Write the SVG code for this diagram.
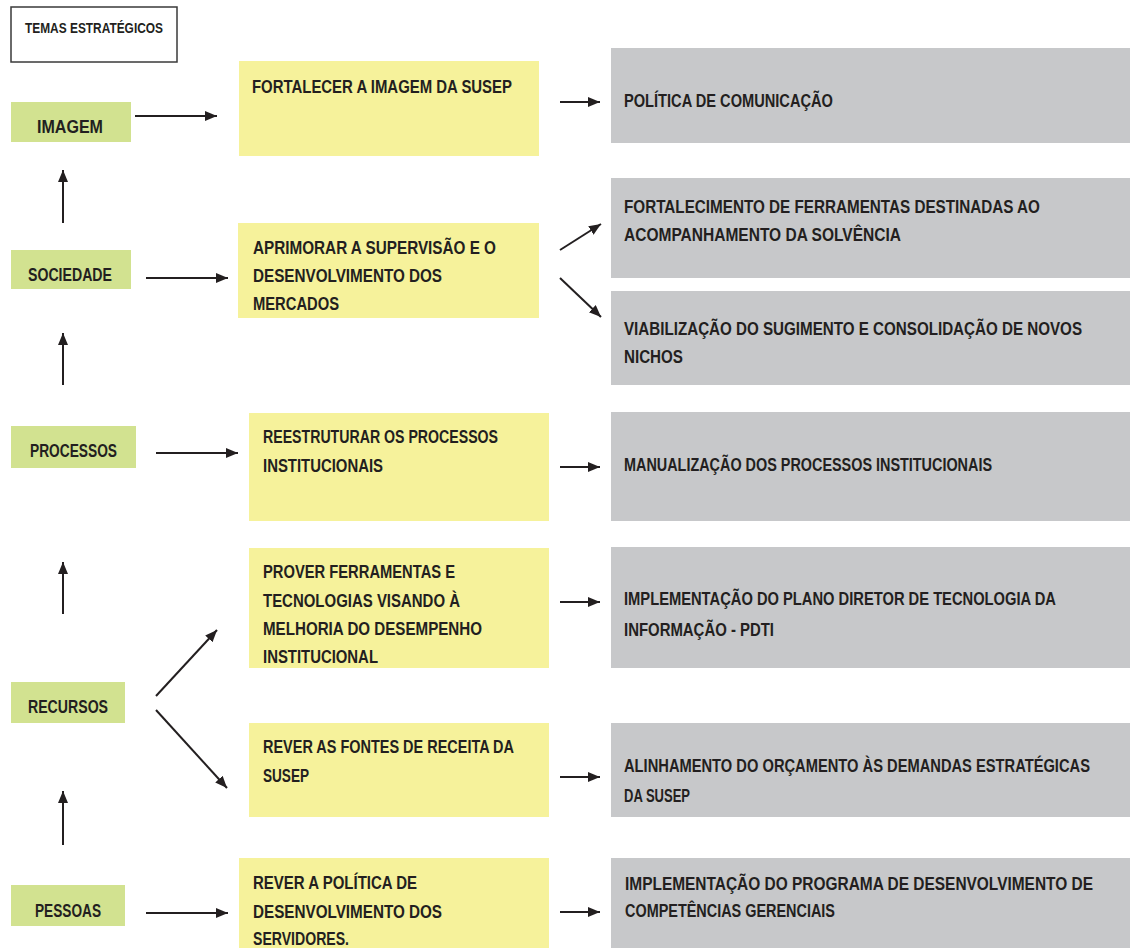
<svg xmlns="http://www.w3.org/2000/svg" width="1130" height="948" viewBox="0 0 1130 948">
<defs>
<marker id="ah" markerUnits="userSpaceOnUse" markerWidth="14" markerHeight="12" refX="12" refY="5" orient="auto">
<path d="M0,0 L12,5 L0,10 z" fill="#231f20"/>
</marker>
<style>
.t{font-family:"Liberation Sans",Arial,sans-serif;font-weight:bold;font-size:19px;fill:#231f20}
.s{font-size:14px}
.g{fill:#d2e290}
.y{fill:#f6f29b}
.r{fill:#c7c8ca}
.c{stroke:#231f20;stroke-width:2;fill:none;marker-end:url(#ah)}
</style>
</defs>
<rect width="1130" height="948" fill="#ffffff"/>
<g id="temas">
<rect x="11" y="7" width="166" height="55" fill="#ffffff" stroke="#3a3a3a" stroke-width="1.5"/>
<text class="t s" transform="matrix(0.78,0,0,1,25,33)" textLength="176.9" lengthAdjust="spacingAndGlyphs">TEMAS ESTRATÉGICOS</text>
</g>
<g id="imagem"><rect class="g" x="11" y="102" width="120" height="40"/><text class="t" transform="matrix(0.78,0,0,1,37,133)" textLength="84.6" lengthAdjust="spacingAndGlyphs">IMAGEM</text></g>
<g id="sociedade"><rect class="g" x="11" y="250" width="120" height="39"/><text class="t" transform="matrix(0.78,0,0,1,28,281)" textLength="107.7" lengthAdjust="spacingAndGlyphs">SOCIEDADE</text></g>
<g id="processos"><rect class="g" x="11" y="426" width="125" height="42"/><text class="t" transform="matrix(0.78,0,0,1,30,457)" textLength="111.5" lengthAdjust="spacingAndGlyphs">PROCESSOS</text></g>
<g id="recursos"><rect class="g" x="11" y="682" width="114" height="41"/><text class="t" transform="matrix(0.78,0,0,1,28,713)" textLength="102.6" lengthAdjust="spacingAndGlyphs">RECURSOS</text></g>
<g id="pessoas"><rect class="g" x="11" y="885" width="114" height="41"/><text class="t" transform="matrix(0.78,0,0,1,35,917)" textLength="84.6" lengthAdjust="spacingAndGlyphs">PESSOAS</text></g>

<g id="obj1"><rect class="y" x="239" y="61" width="300" height="95"/>
<text class="t" transform="matrix(0.78,0,0,1,252,93)" textLength="333.3" lengthAdjust="spacingAndGlyphs">FORTALECER A IMAGEM DA SUSEP</text></g>
<g id="obj2"><rect class="y" x="238" y="223" width="301" height="95"/>
<text class="t" transform="matrix(0.78,0,0,1,253,254)" textLength="311.5" lengthAdjust="spacingAndGlyphs">APRIMORAR  A SUPERVISÃO E O</text>
<text class="t" transform="matrix(0.78,0,0,1,253,282)" textLength="242.3" lengthAdjust="spacingAndGlyphs">DESENVOLVIMENTO  DOS</text>
<text class="t" transform="matrix(0.78,0,0,1,253,310)" textLength="110.3" lengthAdjust="spacingAndGlyphs">MERCADOS</text></g>
<g id="obj3"><rect class="y" x="249" y="413" width="300" height="108"/>
<text class="t" transform="matrix(0.78,0,0,1,263,443)" textLength="301.3" lengthAdjust="spacingAndGlyphs">REESTRUTURAR OS PROCESSOS</text>
<text class="t" transform="matrix(0.78,0,0,1,263,472)" textLength="153.8" lengthAdjust="spacingAndGlyphs">INSTITUCIONAIS</text></g>
<g id="obj4"><rect class="y" x="249" y="548" width="300" height="120"/>
<text class="t" transform="matrix(0.78,0,0,1,263,578)" textLength="246.2" lengthAdjust="spacingAndGlyphs">PROVER FERRAMENTAS E</text>
<text class="t" transform="matrix(0.78,0,0,1,263,607)" textLength="252.6" lengthAdjust="spacingAndGlyphs">TECNOLOGIAS VISANDO À</text>
<text class="t" transform="matrix(0.78,0,0,1,263,635)" textLength="280.8" lengthAdjust="spacingAndGlyphs">MELHORIA DO DESEMPENHO</text>
<text class="t" transform="matrix(0.78,0,0,1,263,663)" textLength="147.4" lengthAdjust="spacingAndGlyphs">INSTITUCIONAL</text></g>
<g id="obj5"><rect class="y" x="249" y="723" width="300" height="94"/>
<text class="t" transform="matrix(0.78,0,0,1,263,753)" textLength="321.8" lengthAdjust="spacingAndGlyphs">REVER AS FONTES DE RECEITA DA</text>
<text class="t" transform="matrix(0.78,0,0,1,263,782)" textLength="59" lengthAdjust="spacingAndGlyphs">SUSEP</text></g>
<g id="obj6"><rect class="y" x="239" y="858" width="310" height="90"/>
<text class="t" transform="matrix(0.78,0,0,1,253,889)" textLength="210.3" lengthAdjust="spacingAndGlyphs">REVER A  POLÍTICA DE</text>
<text class="t" transform="matrix(0.78,0,0,1,253,918)" textLength="242.3" lengthAdjust="spacingAndGlyphs">DESENVOLVIMENTO  DOS</text>
<text class="t" transform="matrix(0.78,0,0,1,253,945)" textLength="123.1" lengthAdjust="spacingAndGlyphs">SERVIDORES.</text></g>

<g id="acao1"><rect class="r" x="611" y="48" width="519" height="95"/>
<text class="t" transform="matrix(0.78,0,0,1,624,107)" textLength="267.9" lengthAdjust="spacingAndGlyphs">POLÍTICA DE COMUNICAÇÃO</text></g>
<g id="acao2"><rect class="r" x="611" y="178" width="519" height="100"/>
<text class="t" transform="matrix(0.78,0,0,1,624,213)" textLength="533.3" lengthAdjust="spacingAndGlyphs">FORTALECIMENTO DE FERRAMENTAS DESTINADAS  AO</text>
<text class="t" transform="matrix(0.78,0,0,1,624,241)" textLength="355.1" lengthAdjust="spacingAndGlyphs">ACOMPANHAMENTO DA SOLVÊNCIA</text></g>
<g id="acao3"><rect class="r" x="611" y="291" width="519" height="94"/>
<text class="t" transform="matrix(0.78,0,0,1,624,335)" textLength="587.2" lengthAdjust="spacingAndGlyphs">VIABILIZAÇÃO DO SUGIMENTO  E CONSOLIDAÇÃO DE NOVOS</text>
<text class="t" transform="matrix(0.78,0,0,1,624,363)" textLength="75.6" lengthAdjust="spacingAndGlyphs">NICHOS</text></g>
<g id="acao4"><rect class="r" x="611" y="412" width="519" height="109"/>
<text class="t" transform="matrix(0.78,0,0,1,624,471)" textLength="471.8" lengthAdjust="spacingAndGlyphs">MANUALIZAÇÃO DOS PROCESSOS INSTITUCIONAIS</text></g>
<g id="acao5"><rect class="r" x="611" y="547" width="519" height="121"/>
<text class="t" transform="matrix(0.78,0,0,1,624,605)" textLength="553.8" lengthAdjust="spacingAndGlyphs">IMPLEMENTAÇÃO DO PLANO DIRETOR DE TECNOLOGIA DA</text>
<text class="t" transform="matrix(0.78,0,0,1,624,636)" textLength="192.3" lengthAdjust="spacingAndGlyphs">INFORMAÇÃO - PDTI</text></g>
<g id="acao6"><rect class="r" x="611" y="723" width="519" height="94"/>
<text class="t" transform="matrix(0.78,0,0,1,624,772)" textLength="597.4" lengthAdjust="spacingAndGlyphs">ALINHAMENTO DO ORÇAMENTO ÀS DEMANDAS ESTRATÉGICAS</text>
<text class="t" transform="matrix(0.78,0,0,1,624,802)" textLength="84.6" lengthAdjust="spacingAndGlyphs">DA SUSEP</text></g>
<g id="acao7"><rect class="r" x="611" y="858" width="519" height="90"/>
<text class="t" transform="matrix(0.78,0,0,1,625,890)" textLength="600" lengthAdjust="spacingAndGlyphs">IMPLEMENTAÇÃO DO PROGRAMA   DE DESENVOLVIMENTO  DE</text>
<text class="t" transform="matrix(0.78,0,0,1,625,917)" textLength="269.2" lengthAdjust="spacingAndGlyphs">COMPETÊNCIAS GERENCIAIS</text></g>

<g id="connectors">
<line class="c" x1="135" y1="116" x2="217" y2="116"/>
<line class="c" x1="146" y1="278" x2="228" y2="278"/>
<line class="c" x1="156" y1="453" x2="238" y2="453"/>
<line class="c" x1="146" y1="913" x2="228" y2="913"/>
<line class="c" x1="156" y1="696" x2="217" y2="630"/>
<line class="c" x1="156" y1="710" x2="227" y2="788"/>
<line class="c" x1="560" y1="102" x2="600" y2="102"/>
<line class="c" x1="560" y1="250" x2="601" y2="224"/>
<line class="c" x1="560" y1="278" x2="601" y2="317"/>
<line class="c" x1="560" y1="467" x2="600" y2="467"/>
<line class="c" x1="560" y1="602" x2="600" y2="602"/>
<line class="c" x1="560" y1="777" x2="600" y2="777"/>
<line class="c" x1="560" y1="912" x2="600" y2="912"/>
<line class="c" x1="63" y1="223" x2="63" y2="170"/>
<line class="c" x1="63" y1="385" x2="63" y2="333"/>
<line class="c" x1="63" y1="614" x2="63" y2="562"/>
<line class="c" x1="63" y1="845" x2="63" y2="791"/>
</g>
</svg>
